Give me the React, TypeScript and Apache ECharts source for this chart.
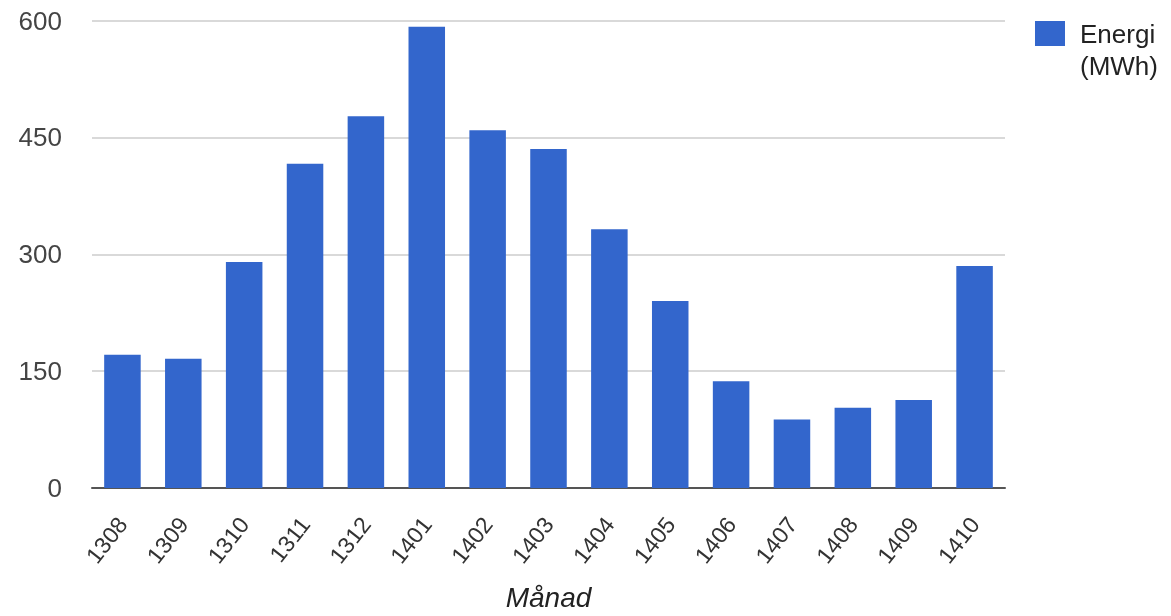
import React, { useEffect, useRef } from "react";
import * as echarts from "echarts";

const categories = ["1308","1309","1310","1311","1312","1401","1402","1403","1404","1405","1406","1407","1408","1409","1410"];
const energy = [171, 166, 290, 416, 477, 592, 459, 435, 332, 240, 137, 88, 103, 113, 285];
const seriesName = "Energi\n(MWh)";
const xTitle = "Månad";

export default function App() {
  const ref = useRef<HTMLDivElement>(null);
  useEffect(() => {
    if (!ref.current) return;
    const chart = echarts.init(ref.current, null, { renderer: "svg" });
    const font = "'Liberation Sans', Arial, sans-serif";
    chart.setOption({
      animation: false,
      textStyle: { fontFamily: font },
      grid: { left: 92, right: 166, top: 20.5, bottom: 122.7, containLabel: false },
      legend: {
        orient: "vertical",
        left: 1035,
        top: 18,
        padding: 0,
        itemWidth: 30,
        itemHeight: 62,
        itemGap: 10,
        icon: "path://M0,0h0.01v0.01h-0.01z M0,2h30v25h-30z M0,62h0.01v0.01h-0.01z",
        textStyle: { fontSize: 26, color: "#222", lineHeight: 32, fontFamily: font, padding: [0, 0, 0, 10] },
        data: [seriesName],
      },
      xAxis: {
        type: "category",
        data: categories,
        name: xTitle,
        nameLocation: "middle",
        nameGap: 95,
        nameTextStyle: { fontSize: 28, fontStyle: "italic", color: "#222", fontFamily: font },
        axisLine: { lineStyle: { color: "#555", width: 2 } },
        axisTick: { show: false },
        axisLabel: { rotate: 52, fontSize: 23, color: "#333", margin: 32, interval: 0, fontFamily: font },
      },
      yAxis: {
        type: "value",
        min: 0,
        max: 600,
        interval: 150,
        axisLine: { show: false },
        axisTick: { show: false },
        splitLine: { lineStyle: { color: "#cccccc", width: 1.5 } },
        axisLabel: { fontSize: 26, color: "#444", margin: 30, fontFamily: font },
      },
      series: [
        {
          name: seriesName,
          type: "bar",
          data: energy,
          barCategoryGap: "40%",
          itemStyle: { color: "#3366cc" },
        },
      ],
    });
    return () => chart.dispose();
  }, []);
  return <div ref={ref} style={{ position: "fixed", left: 0, top: 0, width: 1171, height: 616 }} />;
}
